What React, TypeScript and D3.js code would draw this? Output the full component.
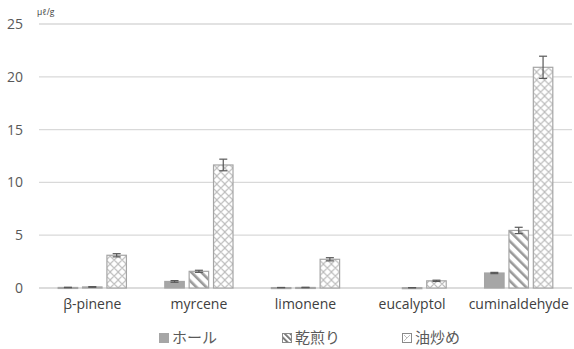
import React from 'react';
import * as d3 from 'd3';

const categories = ['β-pinene', 'myrcene', 'limonene', 'eucalyptol', 'cuminaldehyde'];
const seriesNames = ['ホール', '乾煎り', '油炒め'];
const whole = [0.05, 0.62, 0.04, 0, 1.42];
const dryRoast = [0.1, 1.58, 0.05, 0.03, 5.45];
const oilFry = [3.1, 11.65, 2.72, 0.68, 20.9];
const wholeErr = [0.02, 0.08, 0.01, 0, 0.06];
const dryErr = [0.03, 0.1, 0.02, 0.01, 0.3];
const oilErr = [0.15, 0.55, 0.15, 0.06, 1.05];
const yTicks = [0, 5, 10, 15, 20, 25];

const W = 574;
const H = 349;
const margin = { top: 24, right: 2, bottom: 61, left: 39 };

export default function App() {
  const x = d3.scaleBand()
    .domain(categories)
    .range([margin.left, W - margin.right])
    .paddingInner(0.36)
    .paddingOuter(0.18);

  const x1 = d3.scaleBand()
    .domain(seriesNames)
    .range([0, x.bandwidth()])
    .paddingInner(0.2);

  const y = d3.scaleLinear()
    .domain([0, 25])
    .range([H - margin.bottom, margin.top]);

  const series = [
    { name: seriesNames[0], values: whole, errs: wholeErr, fill: '#a6a6a6' },
    { name: seriesNames[1], values: dryRoast, errs: dryErr, fill: 'url(#stripe)' },
    { name: seriesNames[2], values: oilFry, errs: oilErr, fill: 'url(#cross)' },
  ];

  const font = '"Open Sans", "Noto Sans CJK JP", sans-serif';
  const legendX = [159, 282, 402];

  return (
    <svg width={W} height={H} style={{ position: 'absolute', left: 0, top: 0 }} fontFamily={font}>
      <defs>
        <pattern id="stripe" patternUnits="userSpaceOnUse" width="7" height="7" patternTransform="rotate(-45)">
          <rect width="7" height="7" fill="#fff" />
          <rect x="0" y="0" width="2.6" height="7" fill="#9a9a9a" />
        </pattern>
        <pattern id="cross" patternUnits="userSpaceOnUse" width="8" height="8">
          <rect width="8" height="8" fill="#fff" />
          <path d="M0,4 Q2,2 4,0 M4,0 Q6,2 8,4 M8,4 Q6,6 4,8 M4,8 Q2,6 0,4" fill="none" stroke="#bdbdbd" strokeWidth="1.2" />
        </pattern>
        <pattern id="stripeLegend" patternUnits="userSpaceOnUse" width="4" height="4" patternTransform="rotate(-45)">
          <rect width="4" height="4" fill="#fff" />
          <rect width="1.8" height="4" fill="#6f6f6f" />
        </pattern>
      </defs>
      <rect width={W} height={H} fill="#fff" />

      {yTicks.map(t => (
        <g key={t}>
          <line x1={margin.left} x2={W - margin.right} y1={y(t)} y2={y(t)}
            stroke={t === 0 ? '#d0d0d0' : '#d9d9d9'} strokeWidth={t === 0 ? 1.5 : 1.3} />
          <text x={23} y={y(t) + 5} textAnchor="end" fontSize={14} fill="#595959">{t}</text>
        </g>
      ))}
      <text x={37} y={15} fontSize={8.5} fill="#404040">μℓ/g</text>

      {categories.map((c, i) => (
        <g key={c} transform={`translate(${x(c)},0)`}>
          {series.map(s => {
            const bx = x1(s.name)!;
            const v = s.values[i];
            if (v <= 0) return null;
            const top = y(v);
            const h = y(0) - top;
            const cx = bx + x1.bandwidth() / 2;
            return (
              <g key={s.name}>
                <rect x={bx} y={top} width={x1.bandwidth()} height={Math.max(h, 1)} fill={s.fill}
                  stroke="#a5a5a5" strokeWidth={1.2} />
                {s.errs[i] > 0 && (
                  <g stroke="#595959" strokeWidth={1.2}>
                    <line x1={cx} x2={cx} y1={y(v + s.errs[i])} y2={y(v - s.errs[i])} />
                    <line x1={cx - 4} x2={cx + 4} y1={y(v + s.errs[i])} y2={y(v + s.errs[i])} />
                    <line x1={cx - 4} x2={cx + 4} y1={y(v - s.errs[i])} y2={y(v - s.errs[i])} />
                  </g>
                )}
              </g>
            );
          })}
          <text x={x.bandwidth() / 2} y={309} textAnchor="middle" fontSize={14} fill="#404040">{c}</text>
        </g>
      ))}

      {series.map((s, i) => (
        <g key={s.name} transform={`translate(${legendX[i]},338)`}>
          <rect x={0.5} y={-4.5} width={9} height={9}
            fill={i === 0 ? '#a6a6a6' : i === 1 ? 'url(#stripeLegend)' : '#fff'}
            stroke={i === 0 ? '#a6a6a6' : '#8a8a8a'} strokeWidth={1} />
          {i === 2 && (
            <path d="M2,3 L8,-3 M2,-3 L5,0" stroke="#bdbdbd" strokeWidth={1} />
          )}
          <text x={13} y={5} fontSize={15} fill="#595959">{s.name}</text>
        </g>
      ))}
    </svg>
  );
}
